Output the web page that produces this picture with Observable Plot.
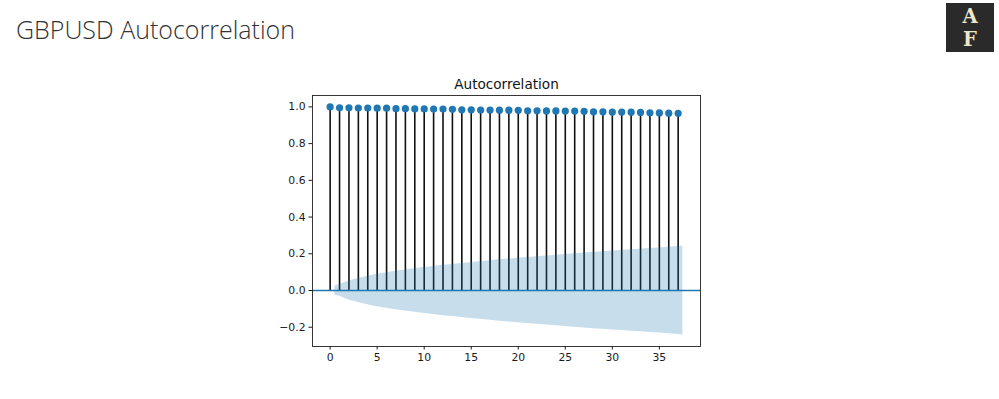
<!DOCTYPE html>
<html>
<head>
<meta charset="utf-8">
<script src="https://cdn.jsdelivr.net/npm/d3@7"></script>
<script src="https://cdn.jsdelivr.net/npm/@observablehq/plot@0.6"></script>
<style>
  html, body { margin: 0; padding: 0; background: #fff; }
  body { width: 999px; height: 399px; position: relative; overflow: hidden; }
  #title { position: absolute; left: 16px; top: 17px; font-family: "Open Sans", "Lato", sans-serif; font-weight: 300; font-size: 25px; line-height: 25px; color: #333; white-space: nowrap; }
  #logo { position: absolute; left: 946px; top: 3px; width: 48px; height: 49px; background: #2a2a2a; }
  #logo span { position: absolute; left: 0; width: 48px; text-align: center; font-family: "DejaVu Serif", "Liberation Serif", serif; font-weight: bold; color: #ebe7cc; font-size: 19.5px; line-height: 22px; }
  #chart { position: absolute; left: 0; top: 60px; }
</style>
</head>
<body>
<div id="title">GBPUSD Autocorrelation</div>
<div id="logo"><span style="top:3px">A</span><span style="top:26px">F</span></div>
<div id="chart"></div>
<script>
// Lags shown as stems
const lags = [0,1,2,3,4,5,6,7,8,9,10,11,12,13,14,15,16,17,18,19,20,21,22,23,24,25,26,27,28,29,30,31,32,33,34,35,36,37];
// Autocorrelation values
const acfValues = [1.000,0.995,0.995,0.994,0.994,0.993,0.993,0.990,0.990,0.989,0.989,0.988,0.988,0.987,0.984,0.984,0.983,0.983,0.982,0.982,0.981,0.979,0.979,0.978,0.978,0.977,0.977,0.976,0.973,0.973,0.972,0.972,0.971,0.970,0.968,0.967,0.966,0.965];
// Confidence band (x positions and bounds)
const bandLags = [0.5,1,2,3,4,5,6,7,8,9,10,11,12,13,14,15,16,17,18,19,20,21,22,23,24,25,26,27,28,29,30,31,32,33,34,35,36,37,37.5];
const bandUpper = [0.025,0.032,0.052,0.066,0.078,0.088,0.097,0.105,0.112,0.119,0.125,0.131,0.137,0.142,0.147,0.152,0.157,0.162,0.167,0.171,0.176,0.180,0.184,0.188,0.192,0.196,0.200,0.204,0.208,0.211,0.215,0.218,0.222,0.225,0.229,0.232,0.236,0.240,0.243];
const bandLower = [-0.025,-0.032,-0.052,-0.066,-0.078,-0.088,-0.097,-0.105,-0.112,-0.119,-0.125,-0.131,-0.137,-0.142,-0.147,-0.152,-0.157,-0.162,-0.167,-0.171,-0.176,-0.180,-0.184,-0.188,-0.192,-0.196,-0.200,-0.204,-0.208,-0.211,-0.215,-0.218,-0.222,-0.225,-0.229,-0.232,-0.236,-0.240,-0.243];
const xTicks = [0,5,10,15,20,25,30,35];
const yTicks = [-0.2,0.0,0.2,0.4,0.6,0.8,1.0];
const chartTitle = "Autocorrelation";

const stems = lags.map((l, i) => ({lag: l, acf: acfValues[i]}));
const band = bandLags.map((l, i) => ({lag: l, lo: bandLower[i], hi: bandUpper[i]}));

const plot = Plot.plot({
  width: 999,
  height: 326,
  marginLeft: 312,
  marginRight: 299,
  marginTop: 35,
  marginBottom: 40,
  style: {fontFamily: "'DejaVu Sans', sans-serif", fontSize: "10.8px", color: "#1a1a1a", background: "#fff"},
  x: {domain: [-1.875, 39.375], ticks: xTicks, tickSize: 3.5, tickPadding: 3.5, label: null},
  y: {domain: [-0.305, 1.062], ticks: yTicks, tickSize: 3.5, tickPadding: 3.5, label: null,
      tickFormat: d => d.toFixed(1).replace("-", "\u2212")},
  marks: [
    Plot.ruleX(stems, {x: "lag", y1: 0, y2: "acf", stroke: "#111", strokeWidth: 1.6}),
    Plot.dot(stems, {x: "lag", y: "acf", r: 3.6, fill: "#1f77b4", stroke: "none"}),
    Plot.ruleY([0], {stroke: "#1f77b4", strokeWidth: 1.5}),
    Plot.areaY(band, {x: "lag", y1: "lo", y2: "hi", fill: "#1f77b4", fillOpacity: 0.25}),
    Plot.frame({stroke: "#222", strokeWidth: 0.9}),
    Plot.text([chartTitle], {frameAnchor: "top", dy: -7, lineAnchor: "bottom", fontSize: 13.6, fill: "#111"})
  ]
});
document.getElementById("chart").appendChild(plot);
</script>
</body>
</html>
